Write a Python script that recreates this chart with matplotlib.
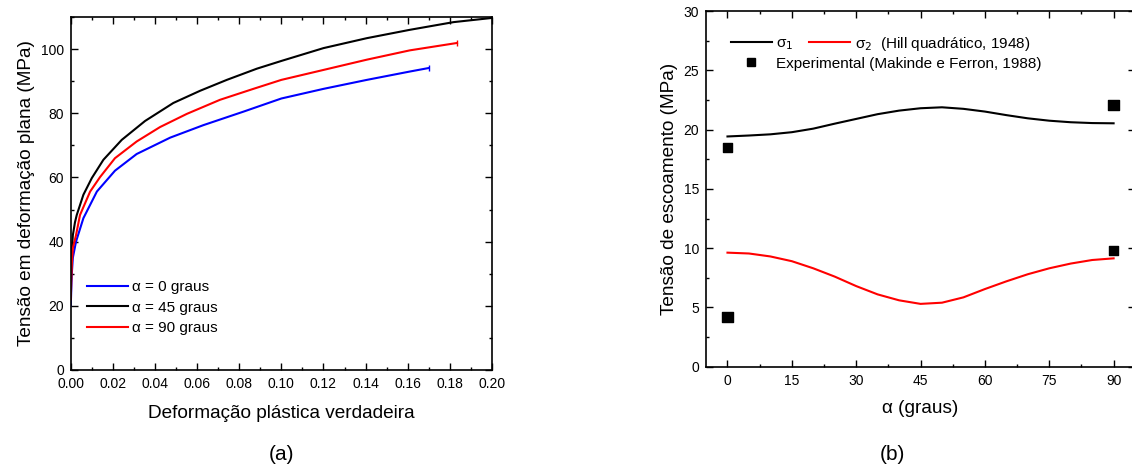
import matplotlib.pyplot as plt
from matplotlib.ticker import MultipleLocator
from matplotlib.lines import Line2D

plt.rcParams['font.family'] = ['Liberation Sans', 'DejaVu Sans']

# (a) plane strain stress vs true plastic strain
strain_0 = [0.0, 0.0005, 0.001, 0.0025, 0.006, 0.0124, 0.021, 0.0313, 0.0472, 0.063,
            0.082, 0.10, 0.12, 0.1406, 0.161, 0.17]
stress_0 = [20, 30, 35, 40, 47.3, 55.6, 62.1, 67.3, 72.4, 76.3,
            80.5, 84.6, 87.6, 90.4, 93.0, 94.1]
strain_45 = [0.0, 0.0005, 0.001, 0.002, 0.00285, 0.006, 0.01, 0.0155, 0.0242, 0.0353,
             0.0487, 0.0614, 0.0741, 0.0884, 0.10, 0.12, 0.1406, 0.161, 0.1818, 0.20]
stress_45 = [25, 37, 42, 46, 48.3, 54.6, 59.8, 65.5, 71.7, 77.6,
             83.2, 87.0, 90.4, 93.9, 96.3, 100.3, 103.4, 106.0, 108.4, 109.7]
strain_90 = [0.0, 0.0005, 0.001, 0.0025, 0.0044, 0.0092, 0.0139, 0.021, 0.0313, 0.0424,
             0.0551, 0.0709, 0.0867, 0.10, 0.12, 0.1406, 0.161, 0.1834]
stress_90 = [22, 33, 38, 42, 48.3, 55.6, 60.1, 66.0, 71.2, 75.7,
             79.8, 84.2, 87.6, 90.4, 93.5, 96.7, 99.6, 101.9]

# (b) yield stress vs angle
alpha = [0, 5, 10, 15, 20, 25, 30, 35, 40, 45, 50, 55, 60, 65, 70, 75, 80, 85, 90]
sigma1 = [19.42, 19.5, 19.6, 19.78, 20.08, 20.5, 20.9, 21.3, 21.6, 21.8,
          21.88, 21.75, 21.52, 21.22, 20.95, 20.75, 20.62, 20.55, 20.53]
sigma2 = [9.62, 9.55, 9.3, 8.9, 8.3, 7.6, 6.8, 6.1, 5.6, 5.3,
          5.4, 5.85, 6.55, 7.2, 7.8, 8.3, 8.7, 9.0, 9.14]
exp_alpha = [0, 0, 90, 90]
exp_stress = [18.5, 4.2, 22.1, 9.8]
exp_size = [38, 55, 55, 38]

fig = plt.figure(figsize=(11.32, 4.73), dpi=100)

def style(ax):
    ax.tick_params(which='both', direction='in', top=True, right=True, labelsize=10, width=1)
    ax.tick_params(which='major', length=5, pad=5)
    ax.tick_params(which='minor', length=2.5)
    for s in ax.spines.values():
        s.set_linewidth(1.2)

ax1 = fig.add_axes([0.0625, 0.2178, 0.3721, 0.7463])
ax1.plot(strain_0, stress_0, color='blue', lw=1.5, label='α = 0 graus',
         marker='|', markersize=4, markevery=[-1])
ax1.plot(strain_45, stress_45, color='black', lw=1.5, label='α = 45 graus')
ax1.plot(strain_90, stress_90, color='red', lw=1.5, label='α = 90 graus',
         marker='|', markersize=4, markevery=[-1])
ax1.set_xlim(0, 0.2)
ax1.set_ylim(0, 110)
ax1.xaxis.set_major_locator(MultipleLocator(0.02))
ax1.xaxis.set_minor_locator(MultipleLocator(0.01))
ax1.yaxis.set_major_locator(MultipleLocator(20))
ax1.yaxis.set_minor_locator(MultipleLocator(10))
ax1.xaxis.set_major_formatter(lambda v, p: f'{v:.2f}')
style(ax1)
ax1.set_xlabel('Deformação plástica verdadeira', fontsize=13.7, labelpad=10)
ax1.set_ylabel('Tensão em deformação plana (MPa)', fontsize=13.7)
leg_a = ax1.legend(loc='lower left', bbox_to_anchor=(0.005, 0.06), frameon=False, fontsize=11,
                   handlelength=2.7, handletextpad=0.3, labelspacing=0.42)
for h in leg_a.legend_handles:
    h.set_marker('')
ax1.text(0.5, -0.24, '(a)', transform=ax1.transAxes, ha='center', va='center', fontsize=15)

ax2 = fig.add_axes([0.6237, 0.2247, 0.379, 0.752])
l1, = ax2.plot(alpha, sigma1, color='black', lw=1.5)
l2, = ax2.plot(alpha, sigma2, color='red', lw=1.5)
ax2.scatter(exp_alpha, exp_stress, s=exp_size, marker='s', color='black', zorder=3)
ax2.set_xlim(-5, 95)
ax2.set_ylim(0, 30)
ax2.xaxis.set_major_locator(MultipleLocator(15))
ax2.xaxis.set_minor_locator(MultipleLocator(7.5))
ax2.yaxis.set_major_locator(MultipleLocator(5))
ax2.yaxis.set_minor_locator(MultipleLocator(2.5))
style(ax2)
ax2.set_xlabel('α (graus)', fontsize=13.7, labelpad=9)
ax2.set_ylabel('Tensão de escoamento (MPa)', fontsize=13.7)
leg1 = ax2.legend([l1, l2], ['σ$_1$', 'σ$_2$  (Hill quadrático, 1948)'],
                  loc='upper left', bbox_to_anchor=(0.025, 0.972), ncol=2, frameon=False,
                  fontsize=11, handlelength=2.7, handletextpad=0.3, columnspacing=1.0)
ax2.add_artist(leg1)
sq = Line2D([], [], ls='none', marker='s', color='black', markersize=6)
ax2.legend([sq], ['Experimental (Makinde e Ferron, 1988)'], loc='upper left',
           bbox_to_anchor=(0.025, 0.91), frameon=False, fontsize=11,
           handlelength=2.7, handletextpad=0.3)
ax2.text(0.434, -0.247, '(b)', transform=ax2.transAxes, ha='center', va='center', fontsize=15)

fig.savefig('out.png', dpi=100)
